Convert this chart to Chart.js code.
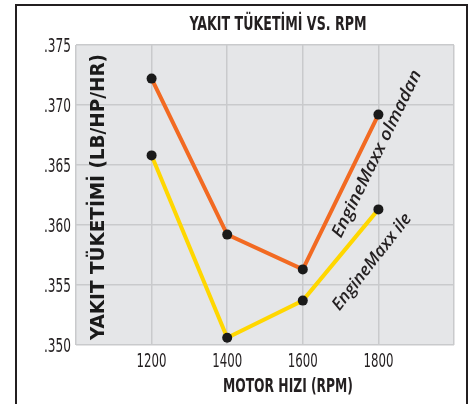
<!DOCTYPE html>
<html>
<head>
<meta charset="utf-8">
<script src="https://cdn.jsdelivr.net/npm/chart.js@4.4.1/dist/chart.umd.min.js"></script>
<style>
html,body{margin:0;padding:0;background:#fff;}
#wrap{width:472px;height:404px;position:relative;}
</style>
</head>
<body>
<div id="wrap"><canvas id="c" width="472" height="404"></canvas></div>
<script>
// ---- data ----
const chartTitle = "YAKIT TÜKETİMİ VS. RPM";
const xAxisTitle = "MOTOR HIZI (RPM)";
const yAxisTitle = "YAKIT TÜKETİMİ (LB/HP/HR)";
const rpm = [1200, 1400, 1600, 1800];
const seriesWithoutLabel = "EngineMaxx olmadan";
const seriesWithLabel = "EngineMaxx ile";
const withoutValues = [0.3722, 0.3592, 0.3563, 0.3692];
const withValues = [0.3658, 0.3506, 0.3537, 0.3613];
const xTickLabels = ["1200", "1400", "1600", "1800"];
const yTickLabels = [".350", ".355", ".360", ".365", ".370", ".375"];

const condensed = "'Liberation Sans Narrow', 'DejaVu Sans Condensed', 'Arial Narrow', sans-serif";

function fitText(ctx, text, cx, cy, targetW, font, angle, color) {
  ctx.save();
  ctx.font = font;
  ctx.fillStyle = color;
  ctx.textAlign = 'center';
  ctx.textBaseline = 'middle';
  const w = ctx.measureText(text).width;
  const k = targetW / w;
  ctx.translate(cx, cy);
  ctx.rotate(angle);
  ctx.scale(k, 1);
  ctx.fillText(text, 0, 0);
  ctx.restore();
}

const decor = {
  id: 'decor',
  beforeDraw(chart) {
    const ctx = chart.ctx;
    const a = chart.chartArea;
    ctx.save();
    ctx.fillStyle = '#ffffff';
    ctx.fillRect(0, 0, chart.width, chart.height);
    ctx.fillStyle = '#e5e6e8';
    ctx.fillRect(a.left, a.top, a.right - a.left, a.bottom - a.top);
    ctx.strokeStyle = '#231f20';
    ctx.lineWidth = 2;
    ctx.beginPath();
    ctx.moveTo(16, 404);
    ctx.lineTo(16, 5);
    ctx.lineTo(467, 5);
    ctx.lineTo(467, 404);
    ctx.stroke();
    ctx.restore();
  },
  beforeDatasetsDraw(chart) {
    const ctx = chart.ctx;
    fitText(ctx, yAxisTitle, 99, 197, 286, "bold 19px 'DejaVu Sans', sans-serif", -Math.PI / 2, '#1a1a1a');
  },
  afterDraw(chart) {
    const ctx = chart.ctx;
    const xs = chart.scales.x, ys = chart.scales.y;
    const tickFont = "19px " + condensed;
    xs.ticks.forEach(t => {
      const s = String(t.value);
      if (!xTickLabels.includes(s)) return;
      fitText(ctx, s, xs.getPixelForValue(t.value), 362, 30, tickFont, 0, '#231f20');
    });
    ys.ticks.forEach((t, i) => {
      const lbl = yTickLabels[i];
      if (!lbl) return;
      ctx.save();
      ctx.font = tickFont;
      const w = ctx.measureText(lbl).width;
      const k = 27 / w;
      ctx.translate(71, ys.getPixelForValue(t.value) + 2);
      ctx.scale(k, 1);
      ctx.fillStyle = '#231f20';
      ctx.textAlign = 'right';
      ctx.textBaseline = 'middle';
      ctx.fillText(lbl, 0, 0);
      ctx.restore();
    });
    fitText(ctx, chartTitle, 278, 25, 177, "bold 20px " + condensed, 0, '#231f20');
    fitText(ctx, xAxisTitle, 288, 387, 130, "bold 20px " + condensed, 0, '#231f20');
    fitText(ctx, seriesWithoutLabel, 377, 154, 184, "italic 600 17px 'Open Sans', sans-serif", -64 * Math.PI / 180, '#231f20');
    fitText(ctx, seriesWithLabel, 372, 262, 118, "italic 600 17px 'Open Sans', sans-serif", -52 * Math.PI / 180, '#231f20');
  }
};

const toPts = vals => rpm.map((r, i) => ({ x: r, y: vals[i] }));

new Chart(document.getElementById('c'), {
  type: 'line',
  data: {
    datasets: [
      {
        label: seriesWithoutLabel,
        data: toPts(withoutValues),
        borderColor: '#f26a22',
        borderWidth: 4,
        pointRadius: 5,
        pointBackgroundColor: '#1a1a1a',
        pointBorderColor: '#1a1a1a',
        pointBorderWidth: 0,
        tension: 0
      },
      {
        label: seriesWithLabel,
        data: toPts(withValues),
        borderColor: '#ffd700',
        borderWidth: 4,
        pointRadius: 5,
        pointBackgroundColor: '#1a1a1a',
        pointBorderColor: '#1a1a1a',
        pointBorderWidth: 0,
        tension: 0
      }
    ]
  },
  options: {
    responsive: false,
    animation: false,
    devicePixelRatio: 1,
    layout: { padding: { left: 0, top: 45, right: 18, bottom: 0 } },
    plugins: { legend: { display: false }, title: { display: false }, tooltip: { enabled: false } },
    scales: {
      x: {
        type: 'linear',
        min: 1000,
        max: 2000,
        afterFit(s) { s.height = 59; },
        border: { display: false },
        grid: { color: '#c9cacc', lineWidth: 1.5, drawTicks: false },
        ticks: {
          stepSize: 200,
          padding: 9,
          color: 'rgba(0,0,0,0)',
          font: { family: condensed, size: 17 },
          callback: v => { const s = String(v); return xTickLabels.includes(s) ? s : ''; }
        }
      },
      y: {
        type: 'linear',
        min: 0.350,
        max: 0.375,
        afterFit(s) { s.width = 76; },
        border: { display: false },
        grid: { color: '#c9cacc', lineWidth: 1.5, drawTicks: false },
        ticks: {
          stepSize: 0.005,
          padding: 5,
          color: 'rgba(0,0,0,0)',
          font: { family: condensed, size: 17 },
          callback: (v, i) => yTickLabels[i]
        }
      }
    }
  },
  plugins: [decor]
});
</script>
</body>
</html>
